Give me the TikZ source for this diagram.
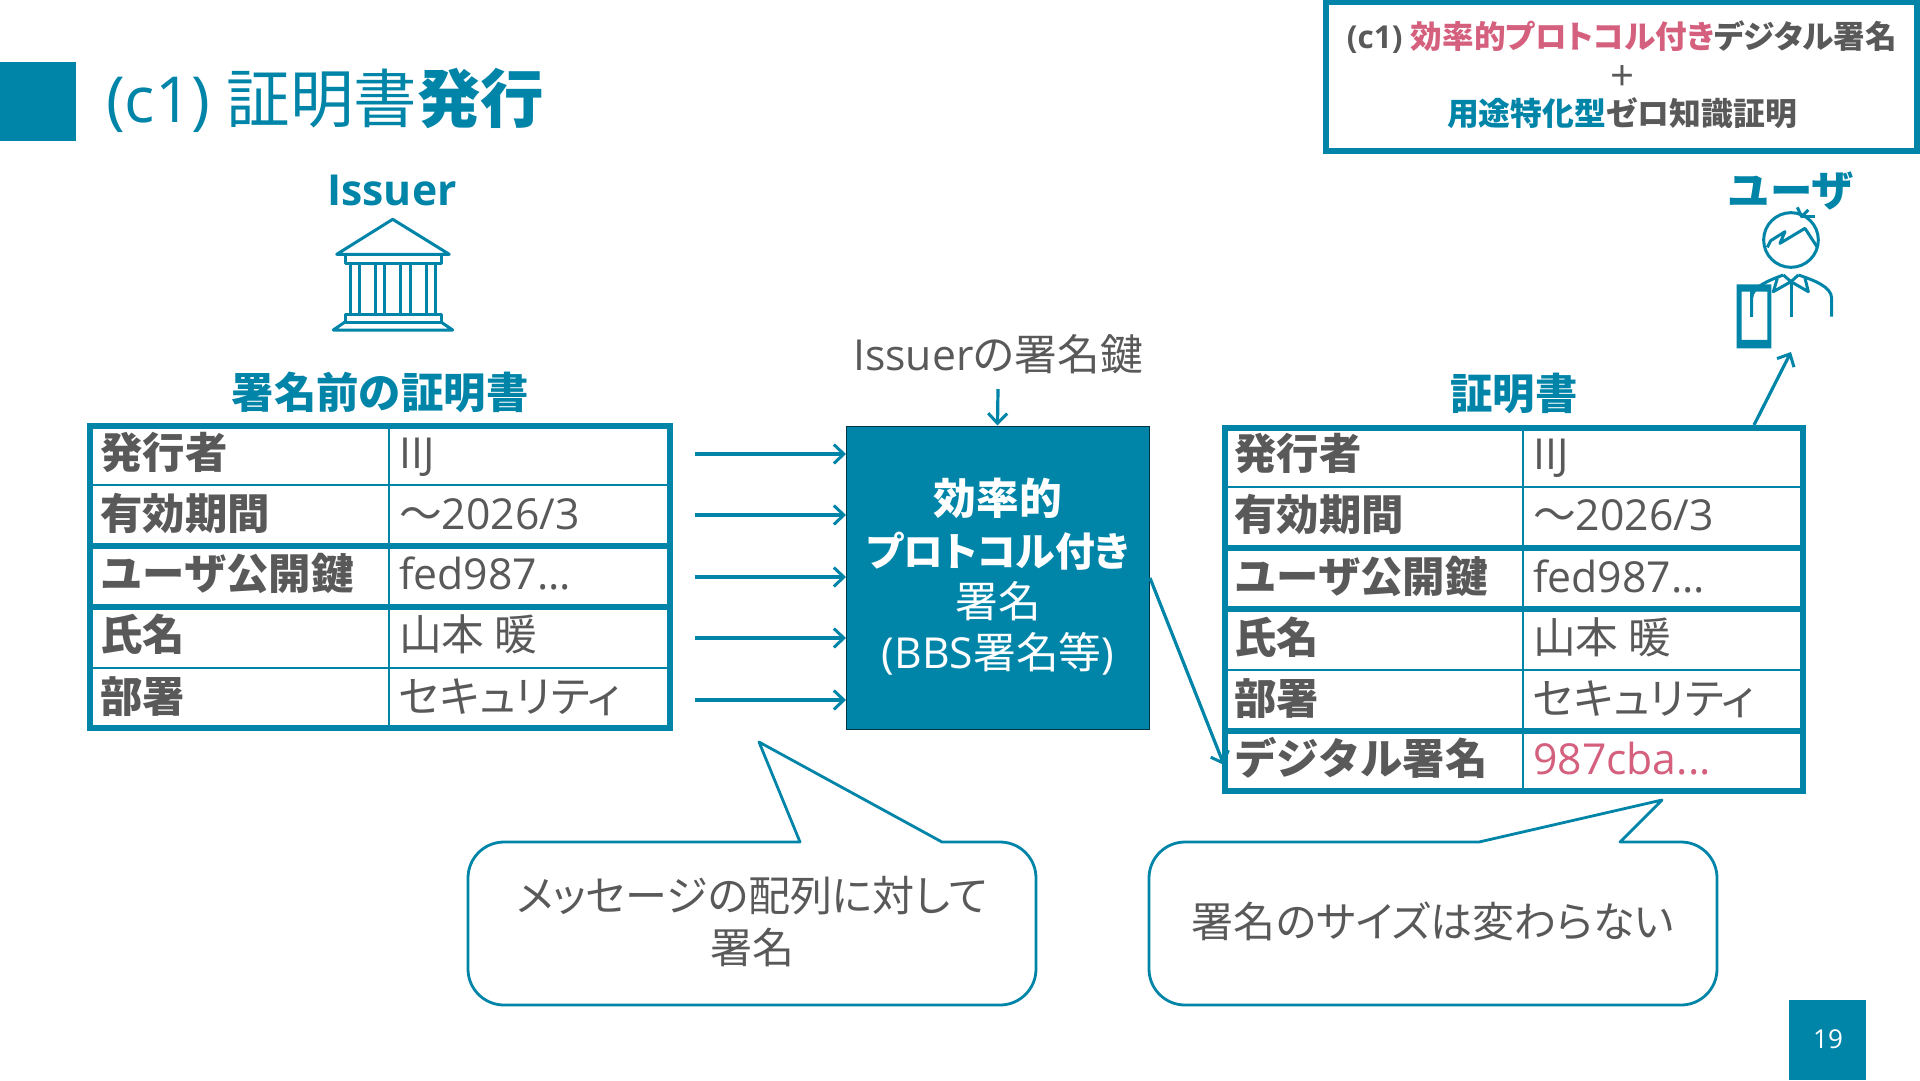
\documentclass[tikz,border=0pt]{standalone}
\usepackage{fontspec}
\setmainfont{Open Sans}
\newfontfamily\cjk{Noto Sans CJK JP}
\newfontfamily\cjkp[RawFeature=+palt]{Noto Sans CJK JP}
\usetikzlibrary{arrows.meta}
\definecolor{teal1}{HTML}{0085A8}
\definecolor{gray1}{HTML}{595959}
\definecolor{pink1}{HTML}{D4607E}
\newcommand{\fs}[1]{\fontsize{#1}{#1}\selectfont}
\tikzset{
  thick line/.style={draw=teal1,line width=6pt},
  thin line/.style={draw=teal1,line width=2pt},
  keytext/.style={anchor=base west,inner sep=0pt,text=gray1,font=\fs{42.4}\bfseries\cjk},
  valtext/.style={anchor=base west,inner sep=0pt,text=gray1,font=\fs{42.7}\cjk},
  headtext/.style={inner sep=0pt,text=teal1,anchor=base,font=\fs{42.4}\bfseries\cjk},
  arr/.style={draw=teal1,line width=3.2pt,-{Straight Barb[length=10pt,width=19pt,line width=3pt]}},
  icon/.style={draw=teal1,line width=3pt,line join=round,fill=none},
  callout/.style={draw=teal1,line width=2.8pt,fill=white,line join=round},
  calltext/.style={inner sep=0pt,text=gray1,align=center,font=\fs{42}\cjkp},
}
\begin{document}
\begin{tikzpicture}[x=1pt,y=-1pt]
\useasboundingbox (0,0) rectangle (1920,1080);
\fill[white] (0,0) rectangle (1920,1080);
% header
\fill[teal1] (0,62) rectangle (76,141);
\node[anchor=base west,inner sep=0pt,text=teal1,font=\fs{63.5}] (title) at (106,122)
  {(c1) {\cjk 証明書}{\cjk\bfseries 発行}};
% top right box
\draw[thick line] (1326,2) rectangle (1917,151);
\node[inner sep=0pt,anchor=base,font=\fs{31.6}\bfseries,text=gray1] (c1) at (1622,48)
  {(c1) {\cjkp\textcolor{pink1}{効率的プロトコル付き}デジタル署名}};
\node[inner sep=0pt,anchor=base,font=\fs{42},text=gray1] (plus) at (1622,90) {+};
\node[inner sep=0pt,anchor=base,font=\fs{31.8}\bfseries\cjk,text=gray1] (c2) at (1622,125)
  {\textcolor{teal1}{用途特化型}ゼロ知識証明};
% Issuer
\node[headtext,font=\fs{42.7}\bfseries] (issuer) at (392,205) {Issuer};
\draw[icon] (336.7,254.3) -- (392.7,219.3) -- (449.3,254.3) -- cycle;
\draw[icon] (345,254.3) rectangle (441,263);
\foreach \xa in {350,359.3,375.3,384.7,400.7,410,426,435.3} \draw[icon] (\xa,263) -- (\xa,314);
\draw[icon] (345,314) rectangle (441,322);
\draw[icon] (345,322) -- (333.3,330) -- (452.7,330) -- (441,322);
% left table
\node[headtext] (lhead) at (380,408) {署名前の証明書};
\foreach \yy in {485,668} \draw[thin line] (90,\yy) -- (670,\yy);
\draw[thin line] (389,426) -- (389,728);
\foreach \yy in {546,607} \draw[thick line] (90,\yy) -- (670,\yy);
\draw[thick line] (90,426) rectangle (670,728);
\node[keytext] (l1k) at (100,468) {発行者};
\node[keytext] (l2k) at (100,529) {有効期間};
\node[keytext] (l3k) at (100,589) {ユーザ公開鍵};
\node[keytext] (l4k) at (100,650) {氏名};
\node[keytext] (l5k) at (100,712) {部署};
\node[valtext,font=\fs{42.7}] (l1v) at (399,468) {IIJ};
\node[valtext] (l2v) at (399,529) {〜{\fontspec{Open Sans}2026/3}};
\node[valtext,font=\fs{42.7}] (l3v) at (399,589) {fed987...};
\node[valtext] (l4v) at (399,650) {山本 暖};
\node[valtext,font=\fs{42.7}\cjkp] (l5v) at (399,712) {セキュリティ};
% right table
\node[headtext] (rhead) at (1514,409) {証明書};
\foreach \yy in {487,670} \draw[thin line] (1225,\yy) -- (1803,\yy);
\draw[thin line] (1523,428) -- (1523,791);
\foreach \yy in {548,609,731} \draw[thick line] (1225,\yy) -- (1803,\yy);
\draw[thick line] (1225,428) rectangle (1803,791);
\node[keytext] (r1k) at (1234,469) {発行者};
\node[keytext] (r2k) at (1234,530) {有効期間};
\node[keytext] (r3k) at (1234,592) {ユーザ公開鍵};
\node[keytext] (r4k) at (1234,653) {氏名};
\node[keytext] (r5k) at (1234,714) {部署};
\node[keytext] (r6k) at (1234,774) {デジタル署名};
\node[valtext,font=\fs{42.7}] (r1v) at (1533,469) {IIJ};
\node[valtext] (r2v) at (1533,530) {〜{\fontspec{Open Sans}2026/3}};
\node[valtext,font=\fs{42.7}] (r3v) at (1533,592) {fed987...};
\node[valtext,] (r4v) at (1533,653) {山本 暖};
\node[valtext,font=\fs{42.7}\cjkp] (r5v) at (1533,714) {セキュリティ};
\node[valtext,font=\fs{42.7},text=pink1] (r6v) at (1533,774) {987cba...};
% central box
\node[draw=black!60!teal1,line width=1pt,fill=teal1,minimum width=303pt,minimum height=303pt,inner sep=0pt] (sig) at (997.5,577.5) {};
\node[inner sep=0pt,anchor=base,text=white,font=\fs{42.7}\bfseries\cjk] (s1) at (998,514) {効率的};
\node[inner sep=0pt,anchor=base,text=white,font=\fs{39.8}\bfseries\cjkp] (s2) at (998,566) {プロトコル付き};
\node[inner sep=0pt,anchor=base,text=white,font=\fs{42.7}\cjk] (s3) at (998,617) {署名};
\node[inner sep=0pt,anchor=base,text=white,font=\fs{42.7}] (s4) at (998,668) {(BBS{\cjk 署名等})};
\node[inner sep=0pt,anchor=base,text=gray1,font=\fs{42.7}] (keylab) at (998,370) {Issuer{\cjkp の署名鍵}};
% arrows
\coordinate (kk) at (998,389);
\draw[arr] (kk) -- (sig.north);
\foreach \n/\yy in {a/454,b/515,c/577,d/638,e/700}{
  \coordinate (\n0) at (695,\yy);
  \coordinate (\n1) at (846,\yy);
  \draw[arr] (\n0) -- (\n1);
}
\coordinate (so) at (1150,578);
\coordinate (st) at (1224,765);
\draw[arr] (so) -- (st);
\coordinate (uo) at (1754,425);
\coordinate (ut) at (1791,352);
\draw[arr] (uo) -- (ut);
% callouts
\draw[callout] (504,842) -- (800,842) -- (759,742) -- (942,842) -- (1000,842)
  arc[start angle=-90,end angle=0,radius=36] -- (1036,969)
  arc[start angle=0,end angle=90,radius=36] -- (504,1005)
  arc[start angle=90,end angle=180,radius=36] -- (468,878)
  arc[start angle=180,end angle=270,radius=36] -- cycle;
\node[calltext] (cl1) at (752,896) {メッセージの配列に対して};
\node[calltext] (cl2) at (752,948) {署名};
\draw[callout] (1185,842) -- (1479,842) -- (1662,800) -- (1620,842) -- (1681,842)
  arc[start angle=-90,end angle=0,radius=36] -- (1717,969)
  arc[start angle=0,end angle=90,radius=36] -- (1185,1005)
  arc[start angle=90,end angle=180,radius=36] -- (1149,878)
  arc[start angle=180,end angle=270,radius=36] -- cycle;
\node[calltext] (cr1) at (1433,921) {署名のサイズは変わらない};
% page number
\fill[teal1] (1789,1000) rectangle (1866,1080);
\node[text=white,font=\fs{26},inner sep=0pt] (pg) at (1828,1039) {19};
% user icon
\node[headtext] (uhead) at (1791,206) {ユーザ};
\begin{scope}[shift={(1680,150)},x=0.3333pt,y=-0.3333pt]
\draw[icon] (333,270) circle [radius=82];
\draw[icon] (262,292) -- (272,272) -- (315,245) -- (300,280) -- (375,235) -- (412,292);
\draw[icon] (352,172) -- (365,200) -- (385,180);
\draw[icon] (365,200) -- (405,200);
\draw[icon] (215,500) -- (215,445) .. controls (215,410) and (270,390) .. (310,375);
\draw[icon] (455,500) -- (455,445) .. controls (455,410) and (400,390) .. (355,375);
\draw[icon] (333,395) -- (333,500);
\draw[icon] (310,375) -- (333,395) -- (355,375);
\draw[icon] (292,385) -- (280,425) -- (333,395) -- (385,425) -- (375,385);
\fill[teal1,even odd rule] (170,403) rectangle (274,595) (185,425) rectangle (262,570);
\draw[icon] (215,500) -- (215,415);
\end{scope}
\end{tikzpicture}
\end{document}
